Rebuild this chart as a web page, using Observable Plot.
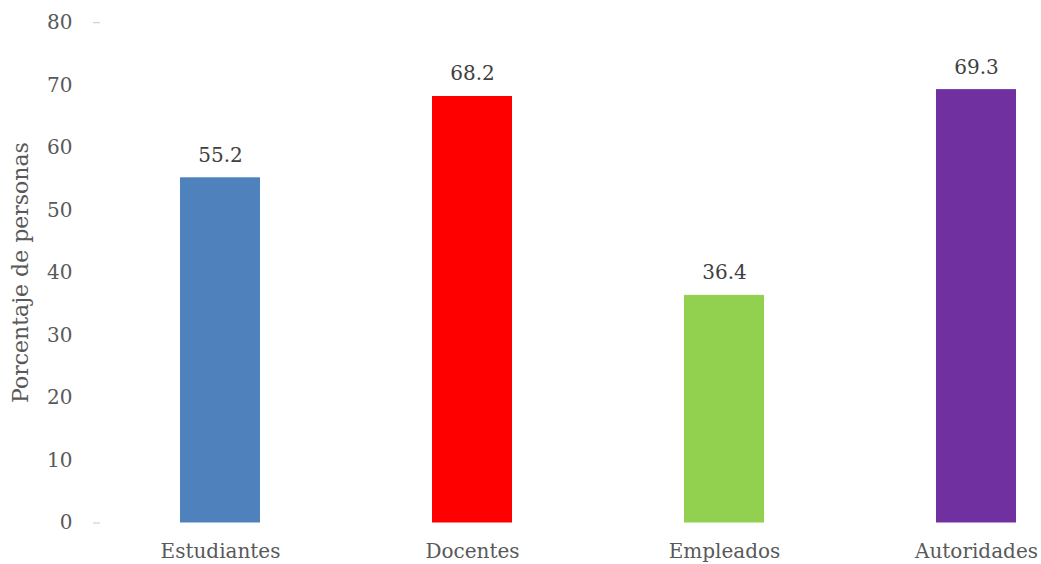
<!DOCTYPE html>
<html>
<head>
<meta charset="utf-8">
<script src="https://cdn.jsdelivr.net/npm/d3@7"></script>
<script src="https://cdn.jsdelivr.net/npm/@observablehq/plot@0.6"></script>
<style>
  html, body { margin: 0; padding: 0; background: #fff; }
  svg { display: block; }
</style>
</head>
<body>
<div id="chart"></div>
<script>
const categories = ["Estudiantes", "Docentes", "Empleados", "Autoridades"];
const values = [55.2, 68.2, 36.4, 69.3];
const colors = ["#4F81BD", "#FF0000", "#92D050", "#7030A0"];
const yTicks = [0, 10, 20, 30, 40, 50, 60, 70, 80];
const yLabel = "Porcentaje de personas";

const data = categories.map((c, i) => ({cat: c, value: values[i], color: colors[i]}));
const font = "'DejaVu Serif', serif";

const chart = Plot.plot({
  width: 1041,
  height: 564,
  marginLeft: 100,
  marginTop: 22,
  marginBottom: 42,
  marginRight: 0,
  style: {fontFamily: font, fontSize: "20px", color: "#595959", background: "#fff"},
  x: {domain: categories, range: [94, 1102], paddingInner: 0.6825, paddingOuter: 0.34125, label: null},
  y: {domain: [0, 80], range: [522.5, 22.2], label: null},
  marks: [
    Plot.axisY(yTicks, {tickSize: 0, tickPadding: 28, fontSize: 20, fill: "#595959", label: null}),
    Plot.axisY([40], {tickSize: 0, tickFormat: () => "", label: yLabel, labelAnchor: "center", labelArrow: "none", labelOffset: 88, fontSize: 22, fill: "#595959"}),
    Plot.axisY([0, 80], {tickSize: 7, tickFormat: () => "", stroke: "#c8c8c8", label: null}),
    Plot.axisX({tickSize: 0, tickPadding: 21, fontSize: 20, fill: "#595959", label: null}),
    Plot.barY(data, {x: "cat", y: "value", fill: "color"}),
    Plot.text(data, {x: "cat", y: "value", text: d => d.value.toFixed(1), lineAnchor: "bottom", dy: -16, fontSize: 20, fill: "#404040"})
  ]
});
document.getElementById("chart").appendChild(chart);
</script>
</body>
</html>
